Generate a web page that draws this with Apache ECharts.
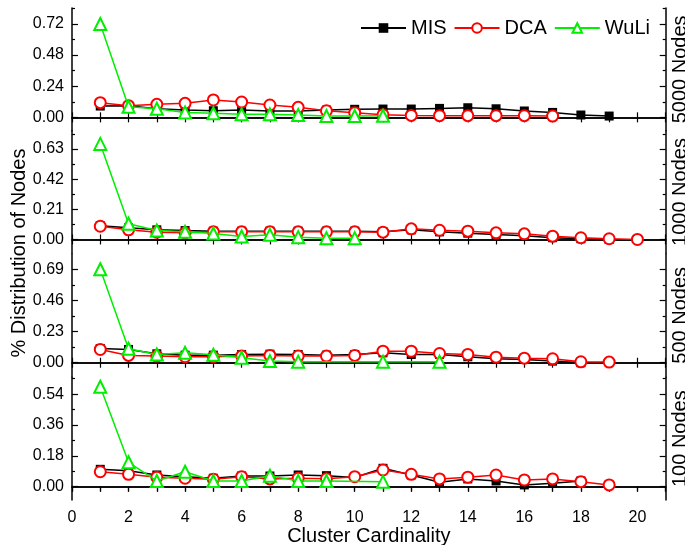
<!DOCTYPE html>
<html><head><meta charset="utf-8">
<script src="https://cdn.jsdelivr.net/npm/echarts@6/dist/echarts.min.js"></script>
<style>html,body{margin:0;padding:0;background:#fff}#c{width:685px;height:545px}</style>
</head><body><div id="c"></div>
<script>
// ---- Data ----
const panelNames = ['5000 Nodes', '1000 Nodes', '500 Nodes', '100 Nodes'];
const seriesNames = ['MIS', 'DCA', 'WuLi'];
const yLabelTicks = [[0, 0.24, 0.48, 0.72], [0, 0.21, 0.42, 0.63], [0, 0.23, 0.46, 0.69], [0, 0.18, 0.36, 0.54]];
const yRanges = [[-0.103, 0.843], [-0.097, 0.757], [-0.103, 0.802], [-0.078, 0.638]];
const xTickLabels = [0, 2, 4, 6, 8, 10, 12, 14, 16, 18, 20];

// 5000 nodes
const mis5000X = [1,2,3,4,5,6,7,8,9,10,11,12,13,14,15,16,17,18,19];
const mis5000Y = [0.087,0.09,0.066,0.056,0.051,0.056,0.049,0.049,0.056,0.062,0.064,0.064,0.069,0.074,0.066,0.049,0.038,0.018,0.01];
const dca5000X = [1,2,3,4,5,6,7,8,9,10,11,12,13,14,15,16,17];
const dca5000Y = [0.113,0.09,0.10,0.108,0.134,0.118,0.095,0.077,0.051,0.036,0.02,0.015,0.013,0.013,0.013,0.013,0.01];
const wuli5000X = [1,2,3,4,5,6,7,8,9,10,11];
const wuli5000Y = [0.72,0.082,0.066,0.038,0.031,0.023,0.023,0.018,0.01,0.01,0.012];

// 1000 nodes
const mis1000X = [1,2,3,4,5,6,7,8,9,10,11,12,13,14,15,16,17,18,19];
const mis1000Y = [0.095,0.081,0.067,0.062,0.058,0.058,0.058,0.058,0.058,0.058,0.053,0.067,0.053,0.044,0.035,0.026,0.012,0.005,0.0];
const dca1000X = [1,2,3,4,5,6,7,8,9,10,11,12,13,14,15,16,17,18,19,20];
const dca1000Y = [0.092,0.067,0.051,0.046,0.053,0.053,0.053,0.053,0.053,0.053,0.051,0.074,0.064,0.058,0.046,0.039,0.023,0.012,0.005,0.0];
const wuli1000X = [1,2,3,4,5,6,7,8,9,10];
const wuli1000Y = [0.665,0.109,0.062,0.053,0.042,0.021,0.032,0.016,0.009,0.009];

// 500 nodes
const mis500X = [1,2,3,4,5,6,7,8,9,10,11,12,13,14,15,16,17,18];
const mis500Y = [0.105,0.098,0.066,0.056,0.056,0.061,0.063,0.061,0.056,0.061,0.073,0.061,0.061,0.044,0.029,0.024,0.012,0.0];
const dca500X = [1,2,3,4,5,6,7,8,9,10,11,12,13,14,15,16,17,18,19];
const dca500Y = [0.098,0.054,0.049,0.044,0.044,0.049,0.054,0.049,0.049,0.054,0.085,0.085,0.068,0.061,0.041,0.034,0.029,0.007,0.005];
const wuli500X = [1,2,3,4,5,6,7,8,11,13];
const wuli500Y = [0.69,0.103,0.061,0.073,0.059,0.037,0.012,0.008,0.008,0.008];

// 100 nodes
const mis100X = [1,2,3,4,5,6,7,8,9,10,11,12,13,14,15,16,17,18];
const mis100Y = [0.101,0.093,0.068,0.058,0.049,0.062,0.062,0.068,0.064,0.053,0.107,0.068,0.026,0.045,0.033,0.01,0.02,0.033];
const dca100X = [1,2,3,4,5,6,7,8,9,10,11,12,13,14,15,16,17,18,19];
const dca100Y = [0.087,0.072,0.055,0.049,0.043,0.058,0.045,0.049,0.046,0.058,0.097,0.072,0.045,0.055,0.068,0.039,0.045,0.029,0.01];
const wuli100X = [1,2,3,4,5,6,7,8,9,11];
const wuli100Y = [0.583,0.142,0.033,0.087,0.033,0.033,0.064,0.033,0.033,0.029];

const panelData = [
  [[mis5000X, mis5000Y], [dca5000X, dca5000Y], [wuli5000X, wuli5000Y]],
  [[mis1000X, mis1000Y], [dca1000X, dca1000Y], [wuli1000X, wuli1000Y]],
  [[mis500X, mis500Y], [dca500X, dca500Y], [wuli500X, wuli500Y]],
  [[mis100X, mis100Y], [dca100X, dca100Y], [wuli100X, wuli100Y]]
];

// ---- Styling / layout ----
const FONT = '"Liberation Sans", Arial, sans-serif';
const gridTops = [8, 130.7, 254, 377.3];
const gridH = 122.7;
const styles = [
  {symbol: 'rect', symbolSize: 9, color: '#000000'},
  {symbol: 'emptyCircle', symbolSize: 11, color: '#ff0000'},
  {symbol: 'emptyTriangle', symbolSize: 12, color: '#00ee00'}
];
const lineAx = {show: true, lineStyle: {color: '#000', width: 1.5}};

const grids = [], xAxes = [], yAxes = [], series = [];
for (let i = 0; i < 4; i++) {
  grids.push({left: 72, right: 19.3, top: gridTops[i], height: gridH, containLabel: false, outerBoundsMode: 'none'});
  const last = i === 3;
  xAxes.push({
    type: 'value', gridIndex: i, position: 'bottom', min: 0, max: 21, interval: 1,
    axisLine: lineAx, splitLine: {show: false},
    axisTick: {show: true, inside: !last, length: 5, lineStyle: {color: '#000', width: 1.2}},
    axisLabel: {show: last, margin: 10, fontSize: 16, color: '#000', fontFamily: FONT,
      formatter: v => (xTickLabels.indexOf(v) >= 0 ? String(v) : '')},
    name: last ? 'Cluster Cardinality' : '', nameLocation: 'middle', nameGap: 20,
    nameTextStyle: {fontSize: 20, color: '#000', fontFamily: FONT}
  });
  xAxes.push({
    type: 'value', gridIndex: i, position: 'top', min: 0, max: 21, interval: 1,
    axisLine: lineAx, splitLine: {show: false},
    axisTick: {show: true, inside: true, length: 5, lineStyle: {color: '#000', width: 1.2}},
    axisLabel: {show: false}
  });
  const [mn, mx] = yRanges[i];
  const major = yLabelTicks[i];
  const step = major[1] / 2;
  const minor = [];
  const majorAll = [];
  for (let k = Math.ceil(mn / step); k * step <= mx + 1e-9; k++) {
    if (k % 2 !== 0) minor.push(+(k * step).toFixed(4));
    else majorAll.push(+(k * step).toFixed(4));
  }
  const base = {type: 'value', gridIndex: i, min: mn, max: mx, splitLine: {show: false}};
  yAxes.push(Object.assign({}, base, {
    position: 'left', axisLine: lineAx,
    axisTick: {show: true, inside: true, length: 6, customValues: majorAll, lineStyle: {color: '#000', width: 1.2}},
    axisLabel: {show: true, customValues: major, margin: 8, fontSize: 16, color: '#000', fontFamily: FONT,
      formatter: v => v.toFixed(2)}
  }));
  yAxes.push(Object.assign({}, base, {
    position: 'left', axisLine: {show: false},
    axisTick: {show: true, inside: true, length: 3, customValues: minor, lineStyle: {color: '#000', width: 1.2}},
    axisLabel: {show: false}
  }));
  yAxes.push(Object.assign({}, base, {
    position: 'right', axisLine: lineAx,
    axisTick: {show: true, inside: true, length: 6, customValues: majorAll, lineStyle: {color: '#000', width: 1.2}},
    axisLabel: {show: false},
    name: panelNames[i], nameLocation: 'middle', nameRotate: 90, nameGap: 5,
    nameTextStyle: {fontSize: 20, color: '#000', fontFamily: FONT}
  }));
  yAxes.push(Object.assign({}, base, {
    position: 'right', axisLine: {show: false},
    axisTick: {show: true, inside: true, length: 3, customValues: minor, lineStyle: {color: '#000', width: 1.2}},
    axisLabel: {show: false}
  }));
  for (let s = 0; s < 3; s++) {
    const [xs, ys] = panelData[i][s];
    series.push({
      name: seriesNames[s], type: 'line', xAxisIndex: 2 * i, yAxisIndex: 4 * i,
      data: xs.map((x, j) => [x, ys[j]]),
      symbol: styles[s].symbol, symbolSize: styles[s].symbolSize, showAllSymbol: true,
      itemStyle: {color: styles[s].color, borderWidth: 1.3},
      lineStyle: {color: styles[s].color, width: 1.5},
      z: 2 + s, animation: false
    });
  }
}

const chart = echarts.init(document.getElementById('c'), null, {renderer: 'canvas'});
chart.setOption({
  backgroundColor: '#fff',
  animation: false,
  grid: grids, xAxis: xAxes, yAxis: yAxes, series: series,
  legend: {
    data: seriesNames, left: 360, top: 18, itemWidth: 45, itemHeight: 12, itemGap: 7,
    padding: 0, textStyle: {fontSize: 20, color: '#000', fontFamily: FONT}
  },
  graphic: [{
    type: 'text', x: 19, y: 253, rotation: Math.PI / 2,
    style: {text: '% Distribution of Nodes', fontSize: 20, fontFamily: FONT, fill: '#000',
      align: 'center', verticalAlign: 'middle'}
  }]
});
</script>
</body></html>
